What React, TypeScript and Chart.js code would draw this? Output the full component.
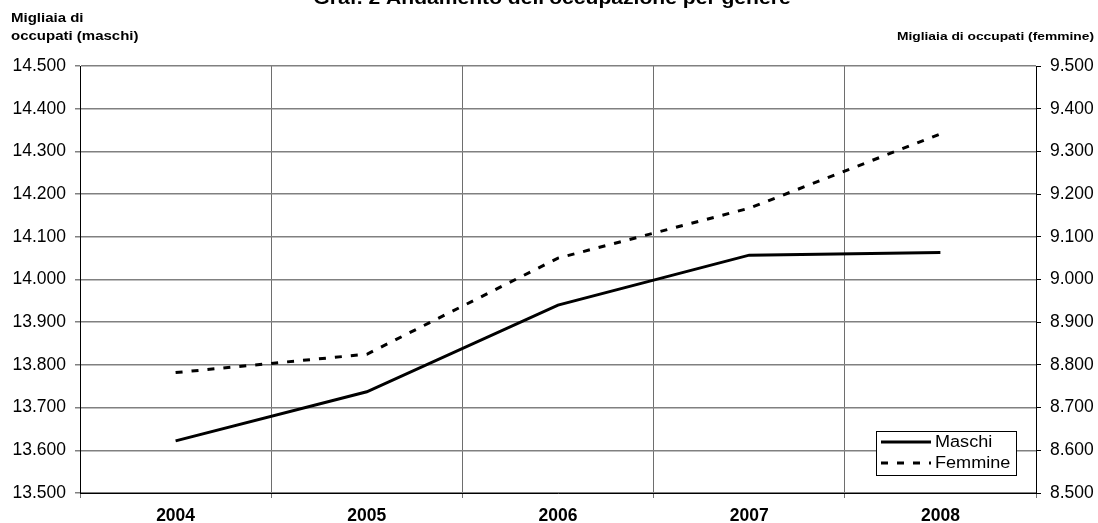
import React, { useEffect, useRef } from "react";
import { Chart, registerables } from "chart.js";

Chart.register(...registerables);

const years = ["2004", "2005", "2006", "2007", "2008"];
const maschi = [13622, 13737, 13940, 14057, 14063];
const femmine = [8782, 8825, 9050, 9167, 9341];
const seriesNames = ["Maschi", "Femmine"];
const chartTitle = "Graf. 2 Andamento dell'occupazione per genere";
const leftAxisTitle = ["Migliaia di", "occupati (maschi)"];
const rightAxisTitle = "Migliaia di occupati (femmine)";
const leftRange = [13500, 14500];
const rightRange = [8500, 9500];
const tickStep = 100;

const fmt = (v: number) => {
  const n = Math.round(v);
  const th = Math.floor(n / 1000);
  const rest = String(n % 1000).padStart(3, "0");
  return th + "." + rest;
};

const FONT = "'Liberation Sans', Arial, sans-serif";

function stretchText(
  ctx: CanvasRenderingContext2D,
  text: string,
  x: number,
  y: number,
  sx: number,
  align: CanvasTextAlign
) {
  ctx.save();
  ctx.translate(x, y);
  ctx.scale(sx, 1);
  ctx.textAlign = align;
  ctx.fillText(text, 0, 0);
  ctx.restore();
}

const decorPlugin = {
  id: "decor",
  afterDraw(chart: any) {
    const ctx = chart.ctx as CanvasRenderingContext2D;
    ctx.save();
    ctx.fillStyle = "#000";
    ctx.textBaseline = "alphabetic";
    // main title (cropped at top)
    ctx.font = `bold 18.5px ${FONT}`;
    stretchText(ctx, chartTitle, 552, 4, 1.14, "center");
    // left axis title
    ctx.font = `bold 12.5px ${FONT}`;
    stretchText(ctx, leftAxisTitle[0], 11, 22, 1.2, "left");
    stretchText(ctx, leftAxisTitle[1], 11, 40, 1.2, "left");
    // right axis title
    ctx.font = `bold 11.5px ${FONT}`;
    stretchText(ctx, rightAxisTitle, 1094, 40, 1.2, "right");

    // legend
    const bx = 876, by = 431, bw = 140, bh = 44;
    ctx.fillStyle = "#fff";
    ctx.fillRect(bx, by, bw, bh);
    ctx.strokeStyle = "#000";
    ctx.lineWidth = 1;
    ctx.strokeRect(bx + 0.5, by + 0.5, bw, bh);
    const rows = [442, 463];
    chart.data.datasets.forEach((ds: any, i: number) => {
      const y = rows[i];
      ctx.beginPath();
      ctx.setLineDash(ds.borderDash || []);
      ctx.lineWidth = 3;
      ctx.strokeStyle = "#000";
      ctx.moveTo(881, y);
      ctx.lineTo(931, y);
      ctx.stroke();
      ctx.setLineDash([]);
      ctx.fillStyle = "#000";
      ctx.font = `16px ${FONT}`;
      ctx.textBaseline = "middle";
      stretchText(ctx, ds.label, 935, y + 1, 1.13, "left");
    });
    ctx.restore();
  },
};

export default function App() {
  const ref = useRef<HTMLCanvasElement>(null);
  useEffect(() => {
    if (!ref.current) return;
    const chart = new Chart(ref.current, {
      type: "line",
      data: {
        labels: years,
        datasets: [
          {
            label: seriesNames[0],
            data: maschi,
            yAxisID: "y",
            borderColor: "#000",
            borderWidth: 3,
            pointRadius: 0,
            tension: 0,
          },
          {
            label: seriesNames[1],
            data: femmine,
            yAxisID: "y1",
            borderColor: "#000",
            borderWidth: 3,
            borderDash: [7, 9],
            pointRadius: 0,
            tension: 0,
          },
        ],
      },
      options: {
        responsive: false,
        animation: false,
        layout: { padding: { top: 66, left: 0, right: 0, bottom: 0 } },
        plugins: {
          legend: { display: false },
          title: { display: false },
          tooltip: { enabled: false },
        },
        scales: {
          x: {
            offset: true,
            grid: {
              offset: true,
              color: "#6e6e6e",
              lineWidth: 1,
              tickLength: 5,
              drawTicks: true,
            },
            border: { color: "#000", width: 1 },
            ticks: {
              color: "#000",
              font: { family: FONT, size: 17.5, weight: "bold" },
              padding: 8,
              maxRotation: 0,
            },
            afterFit(scale: any) {
              scale.height = 30;
            },
          },
          y: {
            position: "left",
            min: leftRange[0],
            max: leftRange[1],
            grid: { color: "#808080", lineWidth: 1.5, tickLength: 5 },
            border: { color: "#000", width: 1 },
            ticks: {
              stepSize: tickStep,
              color: "#000",
              padding: 9,
              font: { family: FONT, size: 17.5 },
              callback: (v: any) => fmt(Number(v)),
            },
            afterFit(scale: any) {
              scale.width = 80;
            },
          },
          y1: {
            position: "right",
            min: rightRange[0],
            max: rightRange[1],
            grid: { drawOnChartArea: false, color: "#000", tickLength: 5 },
            border: { color: "#000", width: 1 },
            ticks: {
              stepSize: tickStep,
              color: "#000",
              padding: 9,
              font: { family: FONT, size: 17.5 },
              callback: (v: any) => fmt(Number(v)),
            },
            afterFit(scale: any) {
              scale.width = 62;
            },
          },
        },
      },
      plugins: [decorPlugin],
    });
    return () => chart.destroy();
  }, []);
  return (
    <div style={{ position: "absolute", left: 0, top: 0, width: 1098, height: 523, background: "#fff" }}>
      <canvas ref={ref} width={1098} height={523} style={{ width: 1098, height: 523 }} />
    </div>
  );
}
